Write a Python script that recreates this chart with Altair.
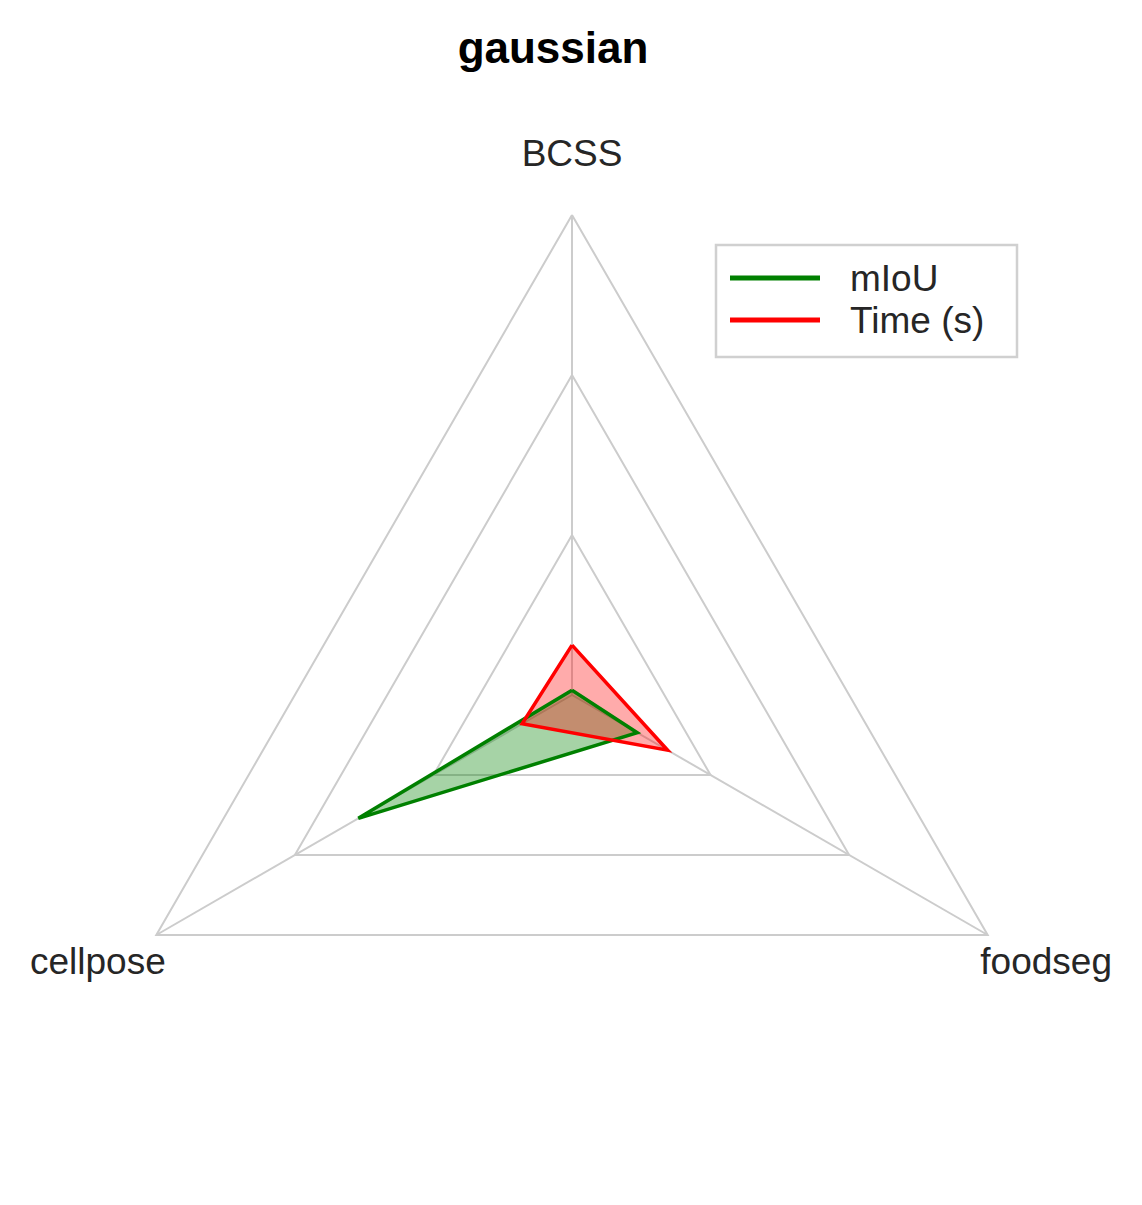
import math
import pandas as pd
import altair as alt

categories = ["BCSS", "foodseg", "cellpose"]
angles_deg = [90, -30, 210]
miou = [0.01, 0.157, 0.514]
time_s = [0.104, 0.23, 0.12]
rings = [1 / 3, 2 / 3, 1.0]

CX, CY, R = 572, 695, 480


def to_unit(px, py):
    return [(px - CX) / R, (CY - py) / R]


def poly_pts(vals):
    pts = [[v * math.cos(math.radians(a)), v * math.sin(math.radians(a))] for v, a in zip(vals, angles_deg)]
    return pts + [pts[0]]


def feat(kind, coords, closed=True):
    geom = {"type": "Polygon", "coordinates": [coords]} if closed else {"type": "LineString", "coordinates": coords}
    return {"type": "Feature", "properties": {"k": kind}, "geometry": geom}


def layer(features, **mark):
    data = alt.InlineData(values={"type": "FeatureCollection", "features": features},
                          format=alt.DataFormat(type="json", property="features"))
    return alt.Chart(data).mark_geoshape(**mark)


grid_feats = [feat("g", poly_pts([r] * 3), closed=False) for r in rings]
grid_feats += [feat("s", [[0, 0], [math.cos(math.radians(a)), math.sin(math.radians(a))]], closed=False) for a in angles_deg]

layers = [
    layer(grid_feats, filled=False, stroke="#cccccc", strokeWidth=2),
    layer([feat("m", poly_pts(miou))], fill="green", fillOpacity=0.35, strokeWidth=0),
    layer([feat("t", poly_pts(time_s))], fill="red", fillOpacity=0.33, strokeWidth=0),
    layer([feat("m", poly_pts(miou), closed=False)], filled=False, stroke="green", strokeWidth=3.5, strokeJoin="miter"),
    layer([feat("t", poly_pts(time_s), closed=False)], filled=False, stroke="red", strokeWidth=3.5, strokeJoin="miter"),
]

# legend
box = [to_unit(716, 245), to_unit(1017, 245), to_unit(1017, 357), to_unit(716, 357), to_unit(716, 245)]
layers.append(layer([feat("b", box)], fill="white", fillOpacity=0.8, stroke="#d0d0d0", strokeWidth=2.5))
layers.append(layer([feat("lm", [to_unit(730, 278), to_unit(820, 278)], closed=False)], filled=False, stroke="green", strokeWidth=5))
layers.append(layer([feat("lt", [to_unit(730, 320), to_unit(820, 320)], closed=False)], filled=False, stroke="red", strokeWidth=5))

label_px = [(572, 155, "center"), (1112, 963, "right"), (30, 963, "left")]
texts = []
for (px, py, al), name in zip(label_px, categories):
    u = to_unit(px, py)
    texts.append({"lon": u[0], "lat": u[1], "t": name, "a": al})
for (px, py), name in zip([(850, 280), (850, 322)], ["mIoU", "Time (s)"]):
    u = to_unit(px, py)
    texts.append({"lon": u[0], "lat": u[1], "t": name, "a": "left"})
tdf = pd.DataFrame(texts)

for al in ["center", "left", "right"]:
    sub = tdf[tdf["a"] == al]
    layers.append(alt.Chart(sub).mark_text(align=al, baseline="middle", fontSize=37, font="Liberation Sans",
                                          color="#262626").encode(
        longitude="lon:Q", latitude="lat:Q", text="t:N"))

tu = to_unit(553, 50)
title = alt.Chart(pd.DataFrame([{"lon": tu[0], "lat": tu[1], "t": "gaussian"}])).mark_text(
    align="center", baseline="middle", fontSize=44, fontWeight="bold", font="Liberation Sans", color="black"
).encode(longitude="lon:Q", latitude="lat:Q", text="t:N")
layers.append(title)

chart = alt.layer(*layers).project(
    type="identity", reflectY=True, scale=R, translate=[CX - 8, CY - 8]
).properties(width=1126, height=1189, autosize=alt.AutoSizeParams(type="none"), padding=0
).configure_view(stroke=None)

chart.save("out.html", embed_options={"renderer": "svg", "actions": False})
